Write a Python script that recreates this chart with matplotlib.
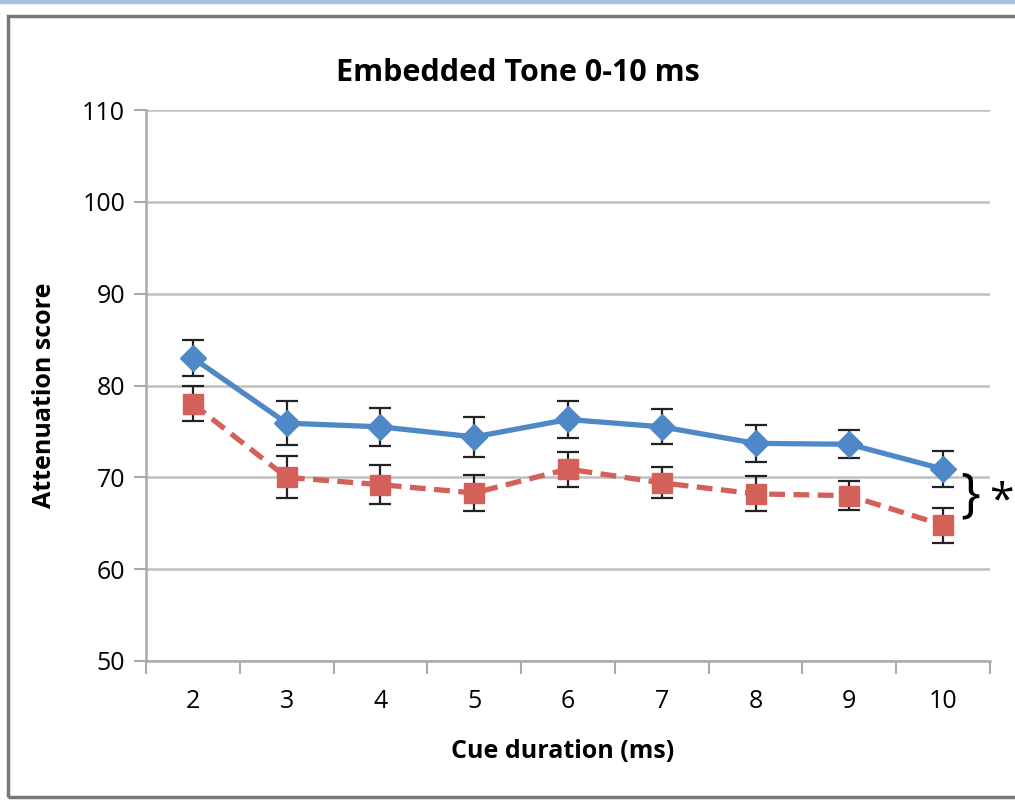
import matplotlib.pyplot as plt
from matplotlib.patches import Rectangle

# data
durations = ["2", "3", "4", "5", "6", "7", "8", "9", "10"]
blue_vals = [83.0, 75.9, 75.5, 74.4, 76.3, 75.5, 73.7, 73.6, 70.9]
blue_err = [2.0, 2.4, 2.1, 2.2, 2.0, 1.9, 2.0, 1.5, 2.0]
red_vals = [78.0, 70.0, 69.2, 68.3, 70.9, 69.4, 68.2, 68.0, 64.8]
red_err = [1.9, 2.3, 2.1, 2.0, 1.9, 1.7, 1.9, 1.6, 1.9]

plt.rcParams["font.family"] = ["Open Sans", "DejaVu Sans"]

fig = plt.figure(figsize=(10.15, 8.0), dpi=100)
ax = fig.add_axes([146 / 1015, 139 / 800, 844 / 1015, 551 / 800])

# frame + blue strip from the screenshot
fig.patches.append(Rectangle((0, 1 - 3 / 800), 1, 3 / 800, transform=fig.transFigure,
                             color="#a9c1e0", zorder=0))
fig.patches.append(Rectangle((8 / 1015, 3 / 800), 1.2, 781 / 800, transform=fig.transFigure,
                             fill=False, ec="#777777", lw=2.5, zorder=0))

x = range(1, len(durations) + 1)
ax.errorbar(x, blue_vals, yerr=blue_err, color="#4f88c6", lw=3.8, marker="D", ms=13,
            ecolor="#222222", elinewidth=1.6, capsize=8, capthick=1.6, zorder=3)
ax.errorbar(x, red_vals, yerr=red_err, color="#d4605a", lw=3.8, ls=(0, (3, 1.6)), marker="s",
            ms=14, ecolor="#222222", elinewidth=1.6, capsize=8, capthick=1.6, zorder=3)

ax.set_ylim(50, 110)
ax.set_yticks(range(50, 111, 10))
ax.set_xlim(0.5, len(durations) + 0.5)
ax.set_xticks([i + 0.5 for i in range(0, len(durations) + 1)], minor=False)
ax.set_xticklabels([])
ax.set_xticks(list(x), minor=True)
ax.set_xticklabels(durations, minor=True)
ax.tick_params(axis="x", which="major", length=9, width=1.5, color="#aaaaaa", direction="out")
ax.tick_params(axis="x", which="minor", length=0, pad=20, labelsize=18)
ax.tick_params(axis="y", length=9, width=1.5, color="#aaaaaa", labelsize=18, pad=6)

ax.grid(axis="y", color="#c0c0c0", lw=1.8)
ax.set_axisbelow(True)
for s in ["top", "right"]:
    ax.spines[s].set_visible(False)
for s in ["left", "bottom"]:
    ax.spines[s].set_color("#aaaaaa")
    ax.spines[s].set_linewidth(1.8)

fig.text(518 / 1015, 1 - 73 / 800, "Embedded Tone 0-10 ms", ha="center", va="center",
         fontsize=22, fontweight="bold")
fig.text(45 / 1015, 1 - 395 / 800, "Attenuation score", rotation=90, ha="center", va="center",
         fontsize=18, fontweight="bold")
fig.text(563 / 1015, 1 - 752 / 800, "Cue duration (ms)", ha="center", va="center",
         fontsize=18, fontweight="bold")

# significance brace
fig.text(970 / 1015, 1 - 497 / 800, "}", ha="center", va="center", fontsize=38)
fig.text(1001 / 1015, 1 - 502 / 800, "*", ha="center", va="center", fontsize=32)

fig.savefig("out.png", dpi=100)
